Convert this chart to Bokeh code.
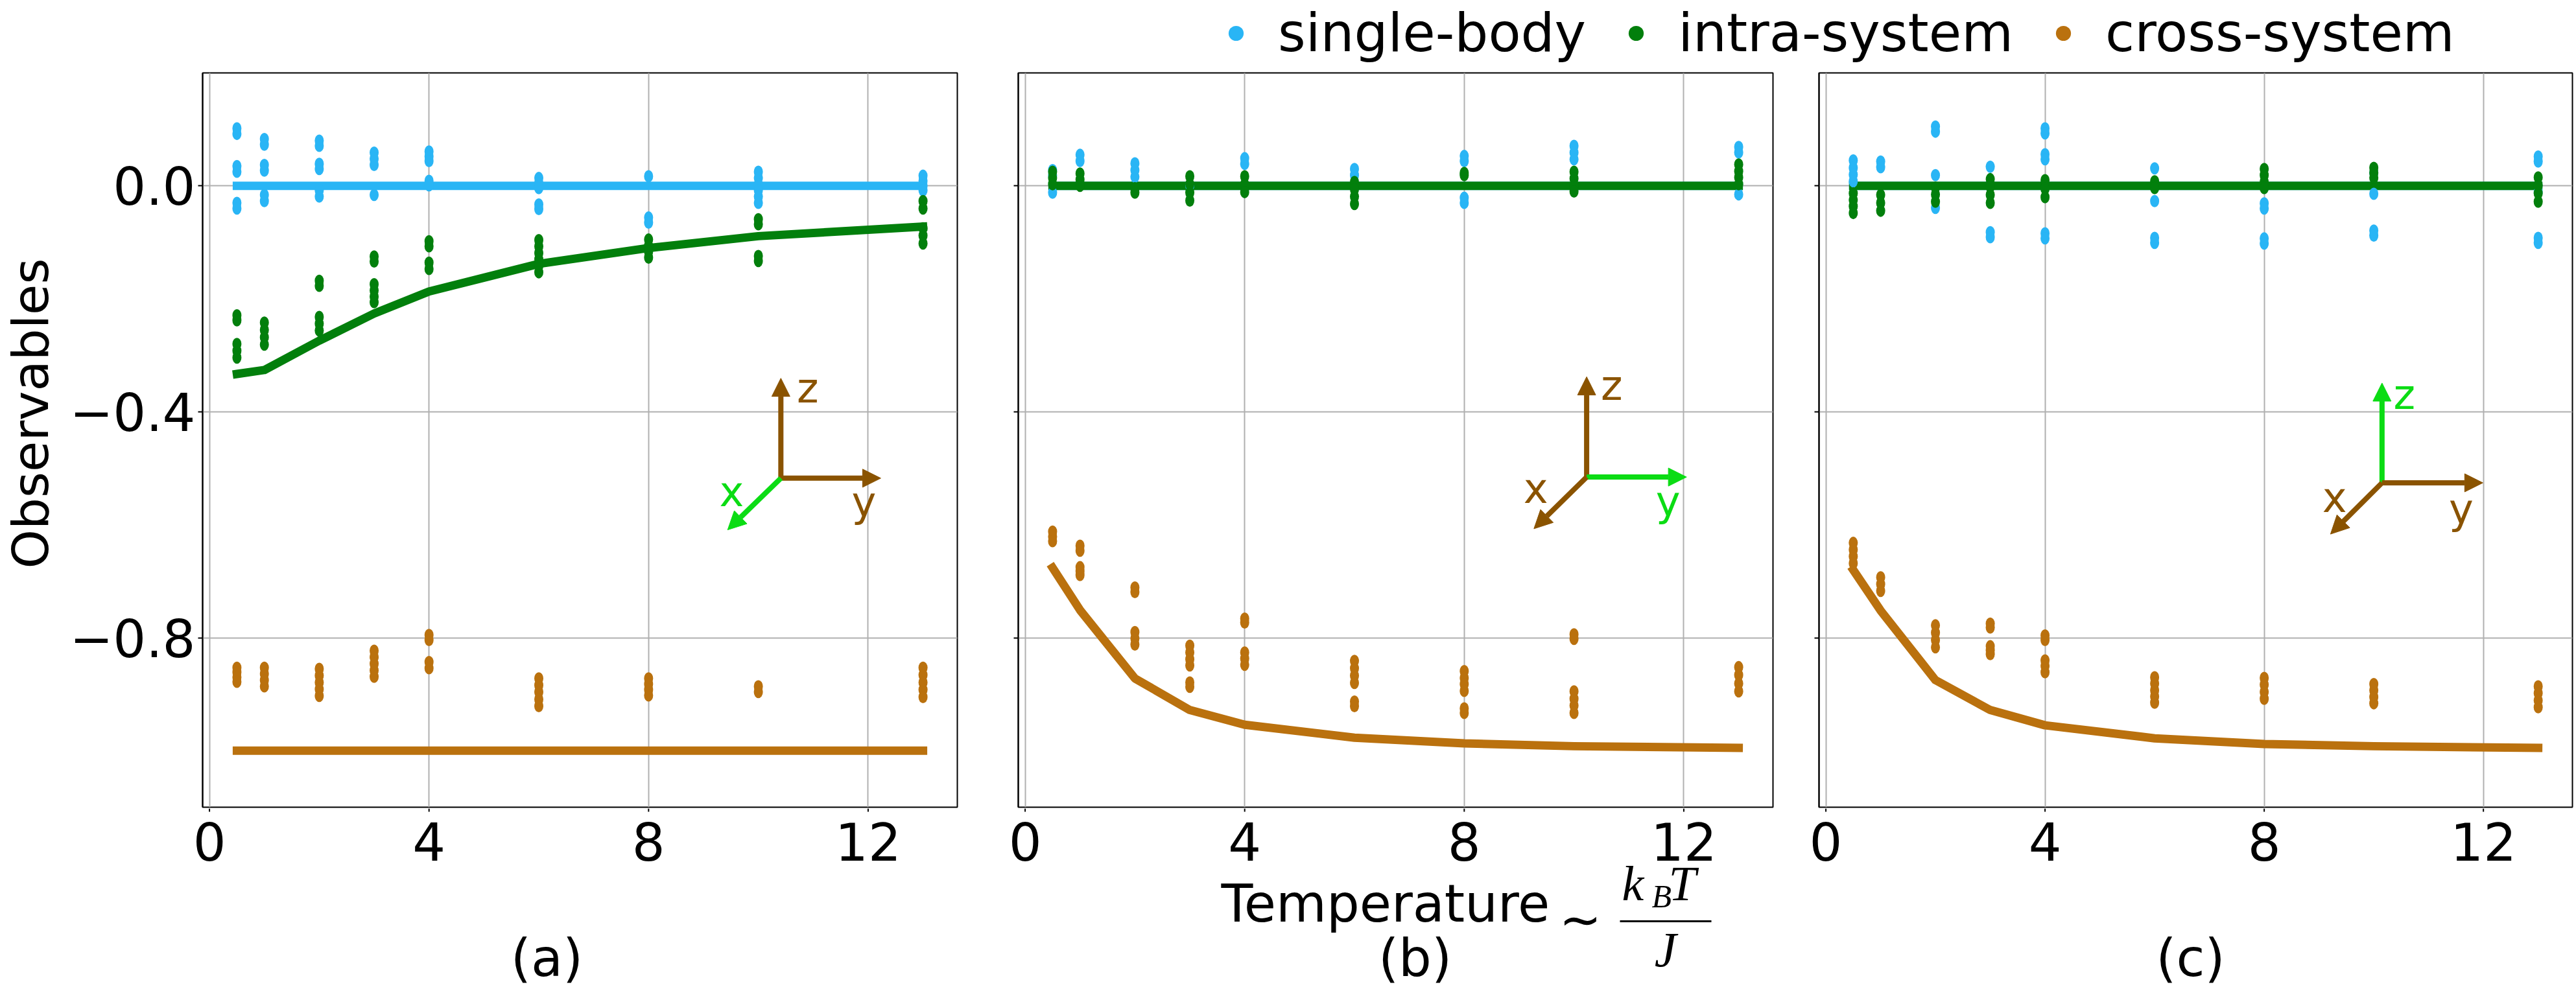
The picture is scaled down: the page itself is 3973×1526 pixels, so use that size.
import numpy as np
from bokeh.plotting import figure
from bokeh.models import (Range1d, FixedTicker, Label, Arrow, NormalHead,
                          Legend, LegendItem, Grid)
from bokeh.layouts import column, row
from bokeh.embed import file_html
from bokeh.resources import INLINE

# ---------------------------------------------------------------- data
temps = [0.5, 1, 2, 3, 4, 6, 8, 10, 13]

# panel (a): measured observables (several samples per temperature)
single_a = [
    [0.102, 0.092, 0.035, 0.025, -0.030, -0.040],
    [0.083, 0.073, 0.037, 0.027, -0.016, -0.027],
    [0.080, 0.071, 0.039, 0.030, -0.008, -0.019],
    [0.059, 0.048, 0.037, -0.016],
    [0.061, 0.052, 0.044, 0.009, 0.001],
    [0.014, 0.005, -0.004, -0.033, -0.041],
    [0.017, -0.056, -0.065],
    [0.025, 0.014, 0.003, -0.008, -0.019, -0.030],
    [0.018, 0.009, 0.000, -0.008],
]
intra_a = [
    [-0.229, -0.238, -0.280, -0.292, -0.304],
    [-0.242, -0.255, -0.268, -0.281],
    [-0.168, -0.177, -0.232, -0.244, -0.256],
    [-0.125, -0.134, -0.174, -0.185, -0.196, -0.206],
    [-0.098, -0.107, -0.136, -0.147],
    [-0.096, -0.107, -0.119, -0.130, -0.142, -0.153],
    [-0.095, -0.106, -0.116, -0.127],
    [-0.059, -0.068, -0.124, -0.133],
    [-0.027, -0.040, -0.075, -0.088, -0.102],
]
cross_a = [
    [-0.853, -0.861, -0.870, -0.878],
    [-0.853, -0.864, -0.875, -0.886],
    [-0.855, -0.867, -0.879, -0.891, -0.903],
    [-0.823, -0.834, -0.846, -0.858, -0.869],
    [-0.795, -0.804, -0.843, -0.854],
    [-0.872, -0.884, -0.896, -0.909, -0.921],
    [-0.872, -0.882, -0.892, -0.902],
    [-0.886, -0.896],
    [-0.853, -0.866, -0.879, -0.892, -0.905],
]
single_model_a = [0.0, 0.0, 0.0, 0.0, 0.0, 0.0, 0.0, 0.0, 0.0]
intra_model_a = [-0.333, -0.326, -0.274, -0.226, -0.187, -0.138, -0.110, -0.089, -0.072]
cross_model_a = [-1.0, -1.0, -1.0, -1.0, -1.0, -1.0, -1.0, -1.0, -1.0]

# panel (b)
single_b = [
    [0.028, 0.018, -0.012],
    [0.055, 0.044],
    [0.040, 0.028, 0.016],
    [0.001],
    [0.049, 0.039],
    [0.030, 0.019],
    [0.053, 0.044, -0.021, -0.030],
    [0.071, 0.059, 0.047],
    [0.069, 0.059, -0.015],
]
intra_b = [
    [0.025, 0.014, 0.003],
    [0.022, 0.011, 0.000],
    [-0.004, -0.012],
    [0.017, 0.003, -0.012, -0.026],
    [0.017, 0.003, -0.011],
    [0.007, -0.006, -0.019, -0.032],
    [0.023, 0.019],
    [0.025, 0.013, 0.001, -0.010],
    [0.038, 0.026, 0.015, 0.003],
]
cross_b = [
    [-0.612, -0.621, -0.629],
    [-0.637, -0.646, -0.675, -0.682, -0.689],
    [-0.711, -0.719, -0.790, -0.801, -0.812],
    [-0.814, -0.826, -0.838, -0.849, -0.879, -0.887],
    [-0.766, -0.773, -0.826, -0.837, -0.848],
    [-0.841, -0.854, -0.867, -0.880, -0.913, -0.921],
    [-0.859, -0.871, -0.882, -0.894, -0.925, -0.933],
    [-0.794, -0.802, -0.895, -0.908, -0.920, -0.933],
    [-0.852, -0.866, -0.881, -0.895],
]
single_model_b = [0.0, 0.0, 0.0, 0.0, 0.0, 0.0, 0.0, 0.0, 0.0]
intra_model_b = [0.0, 0.0, 0.0, 0.0, 0.0, 0.0, 0.0, 0.0, 0.0]
cross_model_b = [-0.676, -0.751, -0.872, -0.928, -0.954, -0.977, -0.987, -0.992, -0.995]

# panel (c)
single_c = [
    [0.045, 0.032, 0.020, 0.008],
    [0.043, 0.033],
    [0.105, 0.096, 0.019, -0.039],
    [0.034, -0.082, -0.091],
    [0.102, 0.093, 0.056, 0.047, -0.084, -0.093],
    [0.031, -0.027, -0.092, -0.101],
    [-0.031, -0.040, -0.093, -0.102],
    [0.023, -0.014, -0.079, -0.088],
    [0.052, 0.043, -0.011, -0.092, -0.101],
]
intra_c = [
    [-0.013, -0.025, -0.036, -0.048],
    [-0.016, -0.030, -0.044],
    [-0.003, -0.015, -0.028],
    [0.012, -0.002, -0.016, -0.030],
    [0.010, -0.005, -0.020],
    [0.008, -0.004],
    [0.030, 0.019, 0.007, -0.004],
    [0.032, 0.023, 0.014],
    [0.015, 0.001, -0.013, -0.028],
]
cross_c = [
    [-0.632, -0.644, -0.656, -0.668],
    [-0.693, -0.705, -0.717],
    [-0.778, -0.791, -0.804, -0.817],
    [-0.775, -0.782, -0.815, -0.822, -0.829],
    [-0.796, -0.804, -0.840, -0.850, -0.861],
    [-0.870, -0.881, -0.893, -0.904, -0.915],
    [-0.871, -0.883, -0.896, -0.908],
    [-0.882, -0.893, -0.905, -0.916],
    [-0.886, -0.898, -0.911, -0.923],
]
single_model_c = [0.0, 0.0, 0.0, 0.0, 0.0, 0.0, 0.0, 0.0, 0.0]
intra_model_c = [0.0, 0.0, 0.0, 0.0, 0.0, 0.0, 0.0, 0.0, 0.0]
cross_model_c = [-0.680, -0.752, -0.875, -0.928, -0.955, -0.978, -0.988, -0.992, -0.995]

series_names = ["single-body", "intra-system", "cross-system"]
x_ticks = [0, 4, 8, 12]
x_tick_labels = ["0", "4", "8", "12"]
y_ticks = [-0.8, -0.4, 0.0]
y_tick_labels = ["\u22120.8", "\u22120.4", "0.0"]

# ---------------------------------------------------------------- style / geometry
BLUE = "#29b5f5"
GREEN = "#027f0c"
ORANGE = "#ba710e"
ARROW_BROWN = "#8a5300"
ARROW_GREEN = "#0bdc14"
SANS = "DejaVu Sans"
SERIF = "Liberation Serif"
# height of the em-box middle above the baseline, as a fraction of the font size
MID_RISE = {SANS: 0.346, SERIF: 0.3375}

PAGE_W, PAGE_H = 3973, 1526
X_LO, X_HI = -0.125, 13.625
Y_LO, Y_HI = -1.1, 0.2
LEGEND_H = 100          # legend strip on top
FRAME_H = 1133          # plotting frame height of every panel
PX_PER_Y = FRAME_H / (Y_HI - Y_LO)
PANEL_BOTTOM = 2        # the temperature scale is drawn in the caption row
MID_H = 12 + FRAME_H + PANEL_BOTTOM
FRAME_BOTTOM = LEGEND_H + 12 + FRAME_H
YLAB_W = 96             # strip holding the shared y title
CAP_TOP = LEGEND_H + MID_H
CAP_H = PAGE_H - CAP_TOP

# (figure width, frame left offset inside the figure, frame width) per column
columns = [(1500, 312, 1164), (1269, 70, 1164), (1204, 36, 1162)]

# coordinate triads drawn inside each panel (data units):
# origin, z tip, y tip, x tip, label anchors (left, baseline), highlighted axis
triads = [
    dict(o=(10.41, -0.5175), z=(10.41, -0.3406), y=(12.23, -0.5175), x=(9.44, -0.609),
         lz=(10.70, -0.384), lx=(9.29, -0.567), ly=(11.70, -0.586), hi="x"),
    dict(o=(10.23, -0.5155), z=(10.23, -0.338), y=(12.05, -0.5155), x=(9.27, -0.607),
         lz=(10.49, -0.379), lx=(9.08, -0.562), ly=(11.49, -0.584), hi="y"),
    dict(o=(10.15, -0.5257), z=(10.15, -0.349), y=(11.99, -0.5257), x=(9.21, -0.6165),
         lz=(10.36, -0.395), lx=(9.06, -0.577), ly=(11.37, -0.598), hi="z"),
]


def flatten(groups):
    xs, ys = [], []
    for t, vals in zip(temps, groups):
        xs += [t] * len(vals)
        ys += vals
    return xs, ys


def make_panel(frame_w, border_left, border_right, show_ylabels):
    p = figure(frame_width=frame_w, frame_height=FRAME_H,
               x_range=Range1d(X_LO, X_HI), y_range=Range1d(Y_LO, Y_HI),
               output_backend="svg", toolbar_location=None, x_axis_location=None,
               min_border_left=border_left, min_border_right=border_right,
               min_border_top=12, min_border_bottom=PANEL_BOTTOM)
    p.yaxis.ticker = FixedTicker(ticks=y_ticks)
    if show_ylabels:
        p.yaxis.major_label_overrides = {v: s for v, s in zip(y_ticks, y_tick_labels)}
    else:
        p.yaxis.major_label_overrides = {v: "" for v in y_ticks}
    ax = p.yaxis[0]
    ax.major_label_text_font = SANS
    ax.major_label_text_font_size = "80px"
    ax.major_label_text_color = "black"
    ax.major_label_standoff = 4
    ax.major_tick_out = 7
    ax.major_tick_in = 0
    ax.major_tick_line_width = 2
    ax.minor_tick_line_color = None
    ax.axis_line_width = 2
    ax.axis_line_color = "black"
    for g in p.xgrid:
        g.visible = False
    p.add_layout(Grid(dimension=0, ticker=FixedTicker(ticks=x_ticks)))
    p.grid.grid_line_color = "#b0b0b0"
    p.grid.grid_line_width = 2
    p.outline_line_color = "black"
    p.outline_line_width = 2
    p.background_fill_color = "white"
    return p


def draw_series(p, models, samples):
    colors = [BLUE, GREEN, ORANGE]
    for m, c in zip(models, colors):
        p.line(temps, m, line_color=c, line_width=13, line_cap="square", line_join="round")
    for s, c in zip(samples, colors):
        xs, ys = flatten(s)
        p.ellipse(x=xs, y=ys, width=14, height=19, width_units="screen",
                  height_units="screen", fill_color=c, line_color=None)


def draw_triad(p, t):
    col = {k: (ARROW_GREEN if t["hi"] == k else ARROW_BROWN) for k in "xyz"}
    o = t["o"]
    size = 64
    rise = MID_RISE[SANS] * size / PX_PER_Y
    for k in ["z", "y", "x"]:
        tip = t[k]
        p.add_layout(Arrow(x_start=o[0], y_start=o[1], x_end=tip[0], y_end=tip[1],
                           line_color=col[k], line_width=8,
                           end=NormalHead(size=28, fill_color=col[k], line_color=col[k],
                                          line_width=1)))
        lx, ly = t["l" + k]
        p.add_layout(Label(x=lx, y=ly + rise, text=k, text_color=col[k], text_font=SANS,
                           text_font_size=f"{size}px", text_align="left",
                           text_baseline="middle"))


def blank(width, height, x_range, y_range):
    s = figure(width=width, height=height, output_backend="svg", toolbar_location=None,
               x_range=x_range, y_range=y_range, min_border=0,
               x_axis_location=None, y_axis_location=None)
    s.grid.visible = False
    s.outline_line_color = None
    s.background_fill_alpha = 0
    s.border_fill_alpha = 0
    return s


def put_text(s, text, x, base_y, size, font=SANS, style="normal", align="left"):
    """Place text by its baseline (page pixels, y down), anchored at the em-box middle."""
    mid_y = base_y - MID_RISE[font] * size
    s.add_layout(Label(x=x, y=mid_y, text=text, text_font=font,
                       text_font_size=f"{size}px", text_font_style=style,
                       text_align=align, text_baseline="middle", text_color="black"))


class Caption:
    """Strip under a panel: same temperature scale as the panel, page pixels vertically."""

    def __init__(self, page_left, fig_w, frame_off, frame_w):
        self.u = (X_HI - X_LO) / frame_w
        self.x0 = X_LO - frame_off * self.u
        self.page_left = page_left
        self.fig = blank(fig_w, CAP_H, Range1d(self.x0, self.x0 + fig_w * self.u),
                         Range1d(PAGE_H, CAP_TOP))

    def x(self, page_x):
        return self.x0 + (page_x - self.page_left) * self.u

    def scale(self):
        # temperature ticks hanging below the panel frame, with their numbers
        n = len(x_ticks)
        self.fig.segment(x0=x_ticks, y0=[CAP_TOP] * n, x1=x_ticks,
                         y1=[FRAME_BOTTOM + 7] * n, line_color="black", line_width=2)
        for t, lab in zip(x_ticks, x_tick_labels):
            put_text(self.fig, lab, t, 1326, 80, align="center")


# ---------------------------------------------------------------- panels
pa = make_panel(1164, 312 - YLAB_W, 24, True)
pb = make_panel(1164, 70, 35, False)
pc = make_panel(1162, 36, 6, False)

draw_series(pa, [single_model_a, intra_model_a, cross_model_a], [single_a, intra_a, cross_a])
draw_series(pb, [single_model_b, intra_model_b, cross_model_b], [single_b, intra_b, cross_b])
draw_series(pc, [single_model_c, intra_model_c, cross_model_c], [single_c, intra_c, cross_c])

for p, t in zip([pa, pb, pc], triads):
    draw_triad(p, t)

# ---------------------------------------------------------------- y title strip
ylab = blank(YLAB_W, MID_H, Range1d(0, YLAB_W), Range1d(LEGEND_H + MID_H, LEGEND_H))
ylab.add_layout(Label(x=47, y=632, text="Observables", text_font=SANS,
                      text_font_size="77px", text_align="center", text_baseline="middle",
                      angle=np.pi / 2, text_color="black"))

# ---------------------------------------------------------------- caption row
page_lefts = [0, 1500, 2769]
ca, cb, cc = [Caption(pl, *col) for pl, col in zip(page_lefts, columns)]
for c in (ca, cb, cc):
    c.scale()

put_text(ca.fig, "(a)", ca.x(843), 1506, 80, align="center")
put_text(cb.fig, "(b)", cb.x(2182), 1506, 80, align="center")
put_text(cc.fig, "(c)", cc.x(3378), 1506, 80, align="center")

put_text(cb.fig, "Temperature", cb.x(1883), 1422, 80)
put_text(cb.fig, "\u223c", cb.x(2437), 1445, 78, align="center")
put_text(cb.fig, "k", cb.x(2501), 1388, 76, font=SERIF, style="italic")
put_text(cb.fig, "B", cb.x(2547), 1399, 50, font=SERIF, style="italic")
put_text(cb.fig, "T", cb.x(2573), 1388, 76, font=SERIF, style="italic")
put_text(cb.fig, "J", cb.x(2568), 1490, 76, font=SERIF, style="italic", align="center")
cb.fig.add_layout(Arrow(x_start=cb.x(2498), y_start=1421, x_end=cb.x(2639), y_end=1421,
                        end=None, line_color="black", line_width=3))

# ---------------------------------------------------------------- legend strip
top = blank(PAGE_W, LEGEND_H, Range1d(0, 1), Range1d(0, 1))
items = []
for name, c in zip(series_names, [BLUE, GREEN, ORANGE]):
    # legend proxies: a single undefined point, so nothing is drawn in the strip itself
    r = top.scatter(x=[np.nan], y=[np.nan], marker="circle", size=23,
                    fill_color=c, line_color=None)
    items.append(LegendItem(label=name, renderers=[r]))
legend = Legend(items=items, orientation="horizontal", location=(1877, 2),
                glyph_width=58, glyph_height=58, label_standoff=36, spacing=48,
                padding=0, margin=0, border_line_color=None, background_fill_alpha=0,
                label_text_font=SANS, label_text_font_size="82px",
                label_text_color="black")
top.add_layout(legend, "center")

layout = column(top, row(ylab, pa, pb, pc), row(ca.fig, cb.fig, cc.fig))
open("out.html", "w").write(file_html(layout, INLINE))
